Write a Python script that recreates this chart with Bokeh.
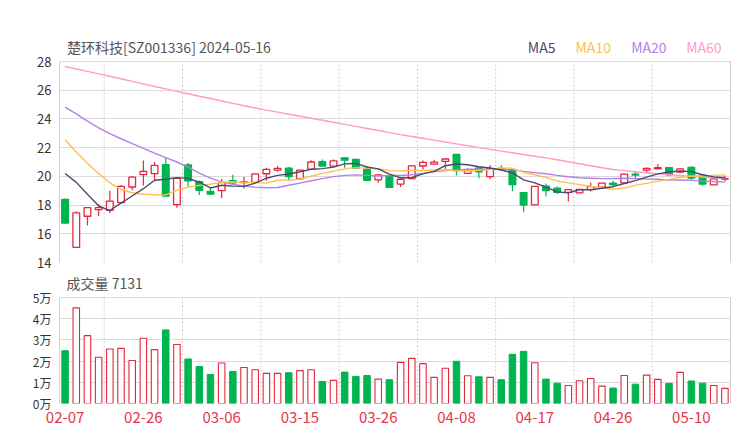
from bokeh.plotting import figure
from bokeh.layouts import column
from bokeh.models import Range1d, FixedTicker, ColumnDataSource, LinearAxis
from bokeh.core.properties import value
from bokeh.embed import file_html
from bokeh.resources import INLINE

# ---------------- data ----------------
title_text = "楚环科技[SZ001336] 2024-05-16"

dates = ["02-07", "02-08", "02-19", "02-20", "02-21", "02-22", "02-23", "02-26", "02-27", "02-28",
         "02-29", "03-01", "03-04", "03-05", "03-06", "03-07", "03-08", "03-11", "03-12", "03-13",
         "03-14", "03-15", "03-18", "03-19", "03-20", "03-21", "03-22", "03-25", "03-26", "03-27",
         "03-28", "03-29", "04-01", "04-02", "04-03", "04-08", "04-09", "04-10", "04-11", "04-12",
         "04-15", "04-16", "04-17", "04-18", "04-19", "04-22", "04-23", "04-24", "04-25", "04-26",
         "04-29", "04-30", "05-06", "05-07", "05-08", "05-09", "05-10", "05-13", "05-14", "05-15"]

opens = [18.40, 15.06, 17.22, 17.68, 17.64, 18.17, 19.26, 20.12, 20.19, 20.81,
         18.03, 20.79, 19.63, 18.96, 19.00, 19.70, 19.56, 19.58, 20.18, 20.43,
         20.58, 19.83, 20.50, 21.02, 20.71, 21.29, 21.18, 20.50, 19.76, 19.99,
         19.46, 19.85, 20.72, 20.85, 21.04, 21.53, 20.21, 20.59, 19.98, 20.56,
         20.45, 18.87, 18.02, 19.31, 19.18, 18.89, 18.85, 19.07, 19.25, 19.52,
         19.55, 20.16, 20.43, 20.53, 20.61, 20.29, 20.63, 20.06, 19.41, 19.81]
highs = [18.45, 17.57, 17.85, 18.05, 19.00, 19.40, 20.00, 21.11, 21.00, 21.34,
         19.88, 20.93, 19.72, 19.19, 19.84, 20.12, 19.95, 20.19, 20.60, 20.72,
         20.66, 20.45, 21.13, 21.18, 21.18, 21.29, 21.22, 20.72, 20.14, 20.00,
         19.93, 20.76, 21.11, 21.15, 21.24, 21.53, 20.55, 20.60, 20.77, 20.77,
         20.47, 18.87, 19.31, 19.51, 19.30, 19.10, 19.12, 19.57, 19.57, 19.69,
         20.16, 20.33, 20.61, 20.84, 20.66, 20.56, 20.70, 20.06, 19.85, 20.06]
lows = [16.70, 15.05, 16.57, 17.24, 17.45, 18.10, 19.03, 19.37, 19.72, 18.63,
        17.82, 19.30, 18.70, 18.70, 18.49, 19.45, 19.15, 19.56, 19.70, 20.32,
        19.68, 19.82, 20.48, 20.70, 20.64, 20.60, 20.55, 19.72, 19.56, 19.22,
        19.26, 19.82, 20.48, 20.80, 20.42, 20.06, 20.17, 19.87, 19.81, 20.38,
        18.97, 17.50, 18.01, 18.59, 18.77, 18.25, 18.83, 18.95, 19.20, 19.25,
        19.53, 19.87, 20.22, 20.52, 20.05, 20.22, 19.76, 19.34, 19.40, 19.64]
closes = [16.75, 17.45, 17.82, 17.82, 18.28, 19.30, 19.95, 20.35, 20.76, 18.63,
          19.86, 19.68, 19.03, 18.77, 19.56, 19.55, 19.61, 20.17, 20.48, 20.56,
          19.98, 20.43, 21.00, 20.72, 21.08, 21.13, 20.57, 19.73, 20.11, 19.24,
          19.80, 20.73, 20.98, 20.99, 21.21, 20.40, 20.45, 20.32, 20.54, 20.50,
          19.42, 18.00, 19.30, 19.01, 18.88, 19.07, 19.09, 19.28, 19.53, 19.43,
          20.15, 20.09, 20.56, 20.60, 20.10, 20.52, 19.87, 19.46, 19.83, 19.84]
volumes = [24900, 45100, 32000, 21800, 25700, 26000, 20300, 30800, 25400, 34700,
           27800, 21000, 17400, 13700, 19100, 15100, 17000, 15900, 14200, 14200,
           14500, 15500, 15900, 10400, 10900, 14800, 12800, 13200, 11500, 11200,
           19400, 21300, 18800, 12300, 16600, 19900, 13100, 12600, 12300, 11200,
           23200, 24600, 19200, 11500, 9600, 8500, 10700, 11800, 8200, 7300,
           13200, 9100, 13400, 11400, 9500, 14700, 10600, 9600, 8500, 7131]

ma5 = [20.20, 19.58, 18.75, 17.95, 17.62, 18.13, 18.63, 19.14, 19.73, 19.80,
       19.91, 19.86, 19.59, 19.19, 19.38, 19.32, 19.30, 19.53, 19.87, 20.07,
       20.16, 20.32, 20.49, 20.54, 20.64, 20.87, 20.90, 20.65, 20.52, 20.16,
       19.89, 19.92, 20.17, 20.35, 20.74, 20.86, 20.81, 20.67, 20.58, 20.44,
       20.25, 19.76, 19.55, 19.25, 18.92, 18.85, 19.07, 19.07, 19.17, 19.28,
       19.50, 19.70, 19.95, 20.17, 20.30, 20.37, 20.33, 20.11, 19.96, 19.90]
ma10 = [22.55, 21.70, 20.90, 20.20, 19.55, 19.10, 18.86, 18.75, 18.72, 18.71,
        19.02, 19.25, 19.37, 19.46, 19.59, 19.62, 19.58, 19.56, 19.53, 19.73,
        19.74, 19.81, 20.01, 20.21, 20.36, 20.52, 20.61, 20.57, 20.53, 20.40,
        20.38, 20.41, 20.41, 20.44, 20.45, 20.38, 20.37, 20.42, 20.47, 20.59,
        20.56, 20.29, 20.11, 19.92, 19.68, 19.55, 19.42, 19.31, 19.21, 19.10,
        19.18, 19.39, 19.51, 19.67, 19.79, 19.94, 20.02, 20.03, 20.07, 20.10]
ma20 = [24.82, 24.35, 23.85, 23.38, 22.97, 22.62, 22.28, 21.95, 21.62, 21.30,
        21.00, 20.65, 20.22, 19.88, 19.62, 19.45, 19.32, 19.25, 19.21, 19.22,
        19.38, 19.53, 19.69, 19.84, 19.98, 20.07, 20.10, 20.07, 20.03, 20.07,
        20.06, 20.11, 20.21, 20.33, 20.41, 20.45, 20.49, 20.50, 20.50, 20.50,
        20.47, 20.35, 20.26, 20.18, 20.07, 19.97, 19.90, 19.87, 19.84, 19.85,
        19.87, 19.84, 19.81, 19.80, 19.74, 19.75, 19.72, 19.67, 19.64, 19.60]
ma60 = [27.65, 27.48, 27.31, 27.14, 26.97, 26.80, 26.62, 26.44, 26.26, 26.09,
        25.92, 25.75, 25.58, 25.42, 25.25, 25.08, 24.92, 24.76, 24.61, 24.47,
        24.33, 24.19, 24.05, 23.91, 23.77, 23.62, 23.48, 23.33, 23.19, 23.05,
        22.91, 22.78, 22.65, 22.52, 22.39, 22.26, 22.13, 22.00, 21.88, 21.76,
        21.64, 21.52, 21.40, 21.29, 21.16, 21.02, 20.88, 20.74, 20.60, 20.48,
        20.40, 20.32, 20.25, 20.18, 20.12, 20.06, 20.00, 19.95, 19.90, 19.86]

price_ticks = [14, 16, 18, 20, 22, 24, 26, 28]
vol_ticks = [0, 10000, 20000, 30000, 40000, 50000]
vol_tick_labels = ["0万", "1万", "2万", "3万", "4万", "5万"]
date_tick_idx = [0, 7, 14, 21, 28, 35, 42, 49, 56]

ma_names = ["MA5", "MA10", "MA20", "MA60"]

# ---------------- styles / layout (page pixels) ----------------
RED = "#e5263d"
GREEN = "#00b450"
MA_COLORS = ["#4a4a6e", "#ffbf50", "#b47fe6", "#ff9acb"]
GRID = "#dcdcdc"
BORDER = "#d0d0d0"
FONT = "Noto Sans CJK SC"
TOTAL_W = 732
FRAME_L = 59
FRAME_W = 671

P1_TOP = 30            # page y of p1's frame top (text row lives above the 28 line)
P1_GRID_TOP = 61       # page y of the 28 line
P1_BOTTOM = 262        # page y of the 14 line
P2_TOP = 272           # page y of p2's frame top (caption row)
P2_GRID_TOP = 297      # page y of the 5万 line
P2_BOTTOM = 403        # page y of the 0 line

n = len(dates)
xs = list(range(n))
up = [c >= o for o, c in zip(opens, closes)]

lo1, hi1 = price_ticks[0], price_ticks[-1]
lo2, hi2 = vol_ticks[0], vol_ticks[-1]
upp1 = (hi1 - lo1) / (P1_BOTTOM - P1_GRID_TOP)     # price units per pixel
upp2 = (hi2 - lo2) / (P2_BOTTOM - P2_GRID_TOP)     # volume units per pixel


def px_to_x(px):
    return -0.5 + (px - FRAME_L) * n / FRAME_W


def subset(flag):
    idx = [i for i in xs if up[i] == flag]
    return ColumnDataSource(dict(
        x=idx,
        top=[max(opens[i], closes[i]) for i in idx],
        bottom=[min(opens[i], closes[i]) for i in idx],
        high=[highs[i] for i in idx],
        low=[lows[i] for i in idx],
        vol=[volumes[i] for i in idx],
    ))

src_up = subset(True)
src_dn = subset(False)

x_range = Range1d(-0.5, n - 0.5)
vgrid = [i + 3.5 for i in date_tick_idx if i + 3.5 < n - 1]


def style(p, lo, hi, ticks):
    p.outline_line_color = None
    p.background_fill_color = "white"
    p.border_fill_color = "white"
    p.min_border_left = FRAME_L
    p.min_border_right = TOTAL_W - FRAME_L - FRAME_W
    p.frame_width = FRAME_W
    # horizontal grid
    p.ygrid.grid_line_color = GRID
    p.xgrid.visible = False
    # vertical dashed grid, only inside the chart box
    p.segment(x0=vgrid, y0=[lo] * len(vgrid), x1=vgrid, y1=[hi] * len(vgrid),
              line_color="#cfcfcf", line_dash="2 2", line_width=1)
    # left axis
    ax = p.yaxis[0]
    ax.ticker = FixedTicker(ticks=ticks)
    ax.bounds = (lo, hi)
    ax.axis_line_color = BORDER
    ax.major_tick_line_color = None
    ax.minor_tick_line_color = None
    ax.major_tick_out = 0
    ax.major_tick_in = 0
    ax.major_label_standoff = 8
    ax.major_label_text_color = "#333333"
    ax.major_label_text_font = FONT
    # right border as an empty axis
    ra = LinearAxis(ticker=FixedTicker(ticks=[]), bounds=(lo, hi),
                    axis_line_color=BORDER, major_tick_line_color=None,
                    minor_tick_line_color=None, major_tick_out=0, major_tick_in=0,
                    major_label_standoff=0, major_label_text_font_size="0px")
    p.add_layout(ra, "right")

# ---------------- price chart ----------------
y1_top = hi1 + (P1_GRID_TOP - P1_TOP) * upp1
p1 = figure(width=TOTAL_W, height=P1_BOTTOM + 9, output_backend="svg", toolbar_location=None,
            x_range=x_range, y_range=Range1d(lo1, y1_top))
p1.frame_height = P1_BOTTOM - P1_TOP
p1.min_border_top = P1_TOP
p1.min_border_bottom = 9
style(p1, lo1, hi1, price_ticks)
p1.xaxis.visible = False
p1.yaxis[0].major_label_text_font_size = "13px"

W = 0.6
p1.segment(x0="x", y0="high", x1="x", y1="low", source=src_up, line_color=RED, line_width=1.2)
p1.vbar(x="x", top="top", bottom="bottom", width=W, source=src_up,
        fill_color="white", line_color=RED, line_width=1.3)
p1.segment(x0="x", y0="high", x1="x", y1="low", source=src_dn, line_color=GREEN, line_width=1.2)
p1.vbar(x="x", top="top", bottom="bottom", width=W, source=src_dn,
        fill_color=GREEN, line_color=GREEN, line_width=1.3)

for series, col in zip([ma60, ma20, ma10, ma5], MA_COLORS[::-1]):
    p1.line(xs, series, line_color=col, line_width=1.4)

# header row: title + MA legend (positions given in page pixels)
hdr_y = hi1 + (P1_GRID_TOP - 46) * upp1
hdr_px = [66.5, 527.3, 575, 630.7, 685.7]
hdr_src = ColumnDataSource(dict(
    x=[px_to_x(v) for v in hdr_px], y=[hdr_y] * 5,
    text=[title_text] + ma_names, color=["#555555"] + MA_COLORS))
p1.text(x="x", y="y", text="text", text_color="color", source=hdr_src,
        text_font=value(FONT), text_font_size=value("14px"),
        text_baseline="middle", text_align="left")

# ---------------- volume chart ----------------
y2_top = hi2 + (P2_GRID_TOP - P2_TOP) * upp2
p2_top_border = P2_TOP - (P1_BOTTOM + 9)
p2 = figure(width=TOTAL_W, height=p2_top_border + (P2_BOTTOM - P2_TOP) + 30,
            output_backend="svg", toolbar_location=None,
            x_range=x_range, y_range=Range1d(lo2, y2_top))
p2.frame_height = P2_BOTTOM - P2_TOP
p2.min_border_top = p2_top_border
p2.min_border_bottom = 30
style(p2, lo2, hi2, vol_ticks)
p2.yaxis[0].major_label_overrides = {t: s for t, s in zip(vol_ticks, vol_tick_labels)}
p2.yaxis[0].major_label_text_font_size = "12px"
p2.xaxis.ticker = FixedTicker(ticks=date_tick_idx)
p2.xaxis.major_label_overrides = {i: dates[i] for i in date_tick_idx}
p2.xaxis.axis_line_color = None
p2.xaxis.major_tick_line_color = None
p2.xaxis.minor_tick_line_color = None
p2.xaxis.major_tick_out = 0
p2.xaxis.major_tick_in = 0
p2.xaxis.major_label_standoff = 8
p2.xaxis.major_label_text_color = "#e6354c"
p2.xaxis.major_label_text_font = FONT
p2.xaxis.major_label_text_font_size = "15px"

VW = 0.58
p2.vbar(x="x", top="vol", bottom=0, width=VW, source=src_up,
        fill_color="white", line_color=RED, line_width=1.1)
p2.vbar(x="x", top="vol", bottom=0, width=VW, source=src_dn,
        fill_color=GREEN, line_color=GREEN, line_width=1.0)

cap_src = ColumnDataSource(dict(
    x=[px_to_x(66)], y=[hi2 + (P2_GRID_TOP - 282) * upp2],
    text=["成交量 " + str(volumes[-1])]))
p2.text(x="x", y="y", text="text", source=cap_src, text_color="#555555",
        text_font=value(FONT), text_font_size=value("14px"),
        text_baseline="middle", text_align="left")

layout = column(p1, p2, spacing=0)
open("out.html", "w").write(file_html(layout, INLINE))
